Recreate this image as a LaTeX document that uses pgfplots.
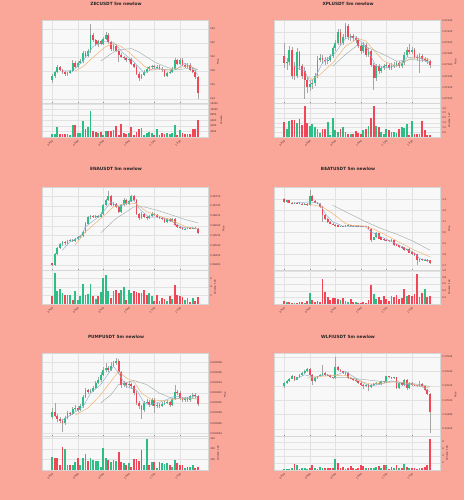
\documentclass[border=0pt]{standalone}
\usepackage{fontspec}
\setmainfont{DejaVu Sans}
\usepackage{pgfplots}
\usepackage{pgfplotstable}
\pgfplotsset{compat=1.18}

\definecolor{pagebg}{RGB}{250,166,152}
\definecolor{panelbg}{RGB}{248,248,248}
\definecolor{gridc}{RGB}{226,226,226}
\definecolor{framec}{RGB}{215,215,215}
\definecolor{upc}{RGB}{46,189,133}
\definecolor{downc}{RGB}{240,70,85}
\definecolor{wickc}{RGB}{165,165,165}
\definecolor{maA}{RGB}{135,175,215}
\definecolor{maB}{RGB}{240,175,105}
\definecolor{maC}{RGB}{160,175,172}
\definecolor{labc}{RGB}{60,40,50}

\newcommand{\tickfont}{\fontsize{2.4}{2.8}\selectfont}
\newcommand{\titlefont}{\fontsize{4.3}{5}\selectfont\bfseries}

\pgfplotsset{
  base/.style={scale only axis, width=166pt, xmin=-4, xmax=61,
    axis background/.style={fill=panelbg},
    axis line style={draw=framec, line width=0.3pt},
    xmajorgrids, ymajorgrids, grid style={draw=gridc, line width=0.3pt},
    xtick={0,10,20,30,40,50},
    ytick pos=right, yticklabel pos=right,
    tick align=outside, major tick length=1.2pt,
    tick style={draw=black!45, line width=0.3pt},
    ticklabel style={font=\tickfont, text=labc, inner sep=1pt},
    ylabel style={font=\tickfont, text=labc, inner sep=1pt},
    scaled y ticks=false, scaled x ticks=false},
  price/.style={base, height=83pt, xticklabels={}, xtick style={draw=none}, ylabel={Price}},
  vol/.style={base, height=34pt, ymin=0,
    xticklabels={08:10,09:00,09:50,10:40,11:30,12:20},
    xticklabel style={rotate=45, anchor=north east}},
}

\newcommand{\candleplots}[1]{%
 \addplot[draw=none, mark=none, forget plot, error bars/.cd, y dir=minus, y explicit, error mark=none,
   error bar style={line width=0.35pt, draw=wickc}]
   table[x=i, y=h, y error expr=\thisrow{h}-\thisrow{l}] {#1};
 \addplot[draw=none, mark=none, forget plot, y filter/.expression={\thisrow{c}>=\thisrow{o} ? y : nan},
   error bars/.cd, y dir=minus, y explicit, error mark=none,
   error bar style={line width=1.8pt, draw=upc}]
   table[x=i, y=c, y error expr=\thisrow{c}-\thisrow{o}] {#1};
 \addplot[draw=none, mark=none, forget plot, y filter/.expression={\thisrow{c}<\thisrow{o} ? y : nan},
   error bars/.cd, y dir=minus, y explicit, error mark=none,
   error bar style={line width=1.8pt, draw=downc}]
   table[x=i, y=o, y error expr=\thisrow{o}-\thisrow{c}] {#1};
}
\newcommand{\volplots}[1]{%
 \addplot[ycomb, mark=none, line width=1.8pt, draw=upc,
   y filter/.expression={\thisrow{c}>=\thisrow{o} ? y : nan}] table[x=i, y=v] {#1};
 \addplot[ycomb, mark=none, line width=1.8pt, draw=downc,
   y filter/.expression={\thisrow{c}<\thisrow{o} ? y : nan}] table[x=i, y=v] {#1};
}

\pgfplotstableread{
i o h l c v
0 516.75 517.6 516.3 517.30 1000
1 517.30 518.0 517.0 517.90 1000
2 517.90 518.8 517.7 518.50 3500
3 518.50 518.7 518.0 518.10 1200
4 518.10 518.3 517.6 517.80 1200
5 517.80 518.0 517.3 517.50 1000
6 517.50 517.9 517.3 517.70 1000
7 517.70 518.2 517.5 518.00 800
8 518.00 519.5 517.8 519.20 4300
9 519.20 519.4 518.4 518.60 4300
10 518.60 519.4 518.4 519.20 1300
11 519.20 519.7 519.0 519.40 1300
12 519.40 520.8 519.2 520.60 5800
13 520.60 520.9 519.9 520.20 2800
14 520.20 521.1 520.0 520.90 3500
15 520.90 524.7 520.6 523.20 9500
16 523.20 523.4 522.2 522.40 2300
17 522.40 522.6 521.6 521.80 1800
18 521.80 522.5 521.5 522.30 1300
19 522.30 522.5 521.7 521.90 1800
20 521.90 522.8 521.7 522.60 800
21 522.60 523.6 522.4 523.20 2300
22 523.20 523.4 521.9 522.10 2100
23 522.10 522.3 520.9 521.10 2300
24 521.10 521.8 520.8 521.60 2500
25 521.60 521.8 520.7 520.90 3800
26 520.90 521.1 519.3 520.30 800
27 520.30 520.5 519.8 520.00 4700
28 520.00 520.2 519.6 519.80 1300
29 519.80 520.0 519.3 519.50 1100
30 519.50 519.9 519.3 519.70 1300
31 519.70 519.9 518.8 519.00 3600
32 519.00 519.2 518.4 518.60 800
33 518.60 518.8 517.4 517.60 1800
34 517.60 517.8 516.5 517.00 2800
35 517.00 517.6 516.8 517.40 3300
36 517.40 518.1 517.2 517.90 800
37 517.90 518.5 517.7 518.30 1600
38 518.30 518.7 518.1 518.50 1800
39 518.50 518.9 518.3 518.70 1500
40 518.70 518.9 518.3 518.50 800
41 518.50 518.8 518.3 518.60 2800
42 518.60 518.8 518.1 518.30 800
43 518.30 518.5 517.9 518.10 1500
44 518.10 518.3 517.1 517.30 1100
45 517.30 517.9 517.1 517.70 1300
46 517.70 518.1 517.5 517.90 1000
47 517.90 518.5 517.7 518.30 1300
48 518.30 519.9 518.1 519.50 4300
49 519.50 519.7 518.8 519.00 800
50 519.00 519.9 518.8 519.60 2500
51 519.60 519.8 518.7 518.90 1500
52 518.90 519.1 518.4 518.60 1100
53 518.60 519.1 518.4 518.90 1100
54 518.90 519.1 518.0 518.20 1100
55 518.20 518.4 517.7 517.90 2800
56 517.90 518.1 516.9 517.10 3000
57 517.10 517.3 514.0 514.80 6300
}\zec

\pgfplotstableread{
i o h l c v
0 0.27376 0.27400 0.27355 0.27363 1.58
1 0.27363 0.27372 0.27352 0.27366 0.88
2 0.27366 0.27395 0.27360 0.27388 1.65
3 0.27388 0.27392 0.27335 0.27340 1.76
4 0.27358 0.27365 0.27334 0.27340 1.76
5 0.27340 0.27390 0.27336 0.27383 1.48
6 0.27383 0.27386 0.27352 0.27358 1.87
7 0.27358 0.27362 0.27335 0.27340 1.23
8 0.27350 0.27356 0.27300 0.27334 3.24
9 0.27334 0.27340 0.27310 0.27320 1.51
10 0.27320 0.27332 0.27314 0.27326 1.13
11 0.27326 0.27334 0.27318 0.27328 1.34
12 0.27328 0.27345 0.27322 0.27340 1.06
13 0.27340 0.27376 0.27336 0.27370 0.88
14 0.27370 0.27380 0.27365 0.27373 0.42
15 0.27373 0.27378 0.27362 0.27369 0.88
16 0.27369 0.27374 0.27360 0.27367 0.81
17 0.27367 0.27375 0.27362 0.27369 1.58
18 0.27369 0.27380 0.27366 0.27376 0.25
19 0.27376 0.27395 0.27372 0.27391 1.94
20 0.27391 0.27405 0.27386 0.27400 0.70
21 0.27400 0.27425 0.27396 0.27420 0.53
22 0.27420 0.27424 0.27395 0.27400 0.88
23 0.27400 0.27415 0.27396 0.27411 1.06
24 0.27411 0.27436 0.27406 0.27430 0.53
25 0.27430 0.27433 0.27405 0.27410 0.35
26 0.27410 0.27416 0.27404 0.27412 0.35
27 0.27412 0.27415 0.27404 0.27409 0.35
28 0.27409 0.27412 0.27400 0.27405 0.63
29 0.27405 0.27409 0.27390 0.27395 0.46
30 0.27395 0.27399 0.27380 0.27385 0.35
31 0.27385 0.27401 0.27381 0.27397 0.70
32 0.27397 0.27400 0.27374 0.27379 0.88
33 0.27379 0.27390 0.27375 0.27385 1.13
34 0.27385 0.27388 0.27356 0.27361 1.94
35 0.27361 0.27364 0.27316 0.27337 3.24
36 0.27337 0.27362 0.27332 0.27358 1.13
37 0.27358 0.27362 0.27344 0.27349 1.06
38 0.27349 0.27359 0.27345 0.27355 0.53
39 0.27355 0.27362 0.27351 0.27358 0.35
40 0.27358 0.27365 0.27354 0.27361 0.88
41 0.27361 0.27364 0.27351 0.27355 0.77
42 0.27355 0.27363 0.27351 0.27359 0.53
43 0.27359 0.27365 0.27355 0.27361 0.53
44 0.27361 0.27368 0.27357 0.27364 0.42
45 0.27364 0.27367 0.27354 0.27358 0.88
46 0.27358 0.27368 0.27354 0.27364 1.06
47 0.27364 0.27383 0.27360 0.27379 0.99
48 0.27379 0.27392 0.27375 0.27388 1.41
49 0.27388 0.27398 0.27380 0.27384 0.18
50 0.27384 0.27392 0.27380 0.27388 1.69
51 0.27388 0.27391 0.27371 0.27375 0.35
52 0.27375 0.27379 0.27368 0.27373 0.35
53 0.27373 0.27381 0.27345 0.27377 0.35
54 0.27377 0.27380 0.27366 0.27371 1.69
55 0.27371 0.27375 0.27365 0.27370 0.70
56 0.27370 0.27373 0.27362 0.27367 0.25
57 0.27367 0.27370 0.27355 0.27361 0.18
}\xpl

\pgfplotstableread{
i o h l c v
0 0.38409 0.38412 0.38396 0.38400 1.76
1 0.38400 0.38462 0.38395 0.38456 7.20
2 0.38456 0.38492 0.38450 0.38485 2.96
3 0.38485 0.38512 0.38480 0.38505 3.60
4 0.38505 0.38522 0.38498 0.38515 2.64
5 0.38515 0.38520 0.38503 0.38510 2.00
6 0.38510 0.38528 0.38505 0.38522 2.00
7 0.38522 0.38533 0.38517 0.38527 2.16
8 0.38527 0.38532 0.38519 0.38524 0.96
9 0.38524 0.38540 0.38519 0.38535 3.04
10 0.38535 0.38547 0.38530 0.38541 0.96
11 0.38541 0.38553 0.38536 0.38547 1.76
12 0.38547 0.38575 0.38542 0.38569 4.56
13 0.38569 0.38617 0.38564 0.38611 2.16
14 0.38611 0.38648 0.38605 0.38642 2.40
15 0.38642 0.38655 0.38636 0.38649 4.56
16 0.38649 0.38654 0.38640 0.38645 1.76
17 0.38645 0.38656 0.38640 0.38650 1.20
18 0.38650 0.38655 0.38641 0.38646 1.76
19 0.38646 0.38668 0.38641 0.38662 2.80
20 0.38662 0.38710 0.38657 0.38704 6.00
21 0.38704 0.38736 0.38699 0.38730 6.80
22 0.38730 0.38777 0.38725 0.38750 2.96
23 0.38750 0.38755 0.38698 0.38704 1.36
24 0.38704 0.38719 0.38699 0.38713 2.96
25 0.38713 0.38718 0.38690 0.38696 3.20
26 0.38696 0.38701 0.38665 0.38671 2.56
27 0.38671 0.38710 0.38666 0.38704 3.36
28 0.38704 0.38739 0.38699 0.38733 4.00
29 0.38733 0.38738 0.38707 0.38713 0.96
30 0.38713 0.38731 0.38708 0.38725 3.20
31 0.38725 0.38758 0.38720 0.38752 2.64
32 0.38752 0.38757 0.38724 0.38730 3.04
33 0.38730 0.38735 0.38656 0.38662 2.72
34 0.38662 0.38667 0.38630 0.38637 2.56
35 0.38637 0.38668 0.38632 0.38662 2.64
36 0.38662 0.38667 0.38640 0.38645 3.20
37 0.38645 0.38650 0.38631 0.38637 2.00
38 0.38637 0.38655 0.38632 0.38649 2.64
39 0.38649 0.38668 0.38644 0.38662 1.76
40 0.38662 0.38667 0.38649 0.38654 0.80
41 0.38654 0.38659 0.38640 0.38645 2.00
42 0.38645 0.38650 0.38632 0.38637 0.80
43 0.38637 0.38642 0.38627 0.38632 1.36
44 0.38632 0.38637 0.38615 0.38620 1.20
45 0.38620 0.38638 0.38615 0.38632 0.80
46 0.38632 0.38637 0.38620 0.38625 1.76
47 0.38625 0.38638 0.38620 0.38632 1.20
48 0.38632 0.38637 0.38597 0.38603 4.40
49 0.38603 0.38608 0.38589 0.38595 2.16
50 0.38595 0.38600 0.38585 0.38590 1.76
51 0.38590 0.38595 0.38576 0.38581 1.60
52 0.38581 0.38591 0.38576 0.38586 0.96
53 0.38586 0.38595 0.38581 0.38590 1.36
54 0.38590 0.38594 0.38581 0.38586 0.40
55 0.38586 0.38593 0.38581 0.38588 1.44
56 0.38588 0.38592 0.38581 0.38586 0.80
57 0.38586 0.38590 0.38558 0.38564 1.60
}\ena

\pgfplotstableread{
i o h l c v
0 3.309 3.315 3.270 3.279 0.10
1 3.279 3.300 3.272 3.294 0.07
2 3.294 3.298 3.266 3.272 0.05
3 3.272 3.276 3.265 3.270 0.03
4 3.270 3.278 3.266 3.273 0.03
5 3.273 3.276 3.266 3.270 0.02
6 3.270 3.274 3.260 3.264 0.05
7 3.264 3.268 3.254 3.258 0.07
8 3.258 3.265 3.254 3.260 0.02
9 3.262 3.266 3.245 3.250 0.10
10 3.250 3.385 3.245 3.330 0.34
11 3.330 3.345 3.285 3.290 0.12
12 3.290 3.296 3.266 3.272 0.05
13 3.272 3.278 3.256 3.262 0.10
14 3.262 3.268 3.228 3.233 0.05
15 3.233 3.240 3.097 3.158 0.75
16 3.158 3.165 3.110 3.127 0.35
17 3.127 3.135 3.090 3.097 0.22
18 3.097 3.104 3.076 3.082 0.12
19 3.082 3.088 3.067 3.073 0.17
20 3.073 3.079 3.052 3.058 0.17
21 3.064 3.070 3.046 3.052 0.15
22 3.052 3.063 3.047 3.058 0.12
23 3.058 3.063 3.047 3.052 0.17
24 3.052 3.070 3.047 3.064 0.10
25 3.064 3.076 3.059 3.070 0.07
26 3.067 3.072 3.053 3.058 0.15
27 3.060 3.065 3.053 3.058 0.05
28 3.058 3.066 3.053 3.060 0.05
29 3.060 3.065 3.053 3.058 0.03
30 3.058 3.063 3.052 3.057 0.02
31 3.057 3.062 3.047 3.052 0.05
32 3.058 3.063 3.047 3.052 0.03
33 3.052 3.058 3.030 3.036 0.12
34 3.036 3.042 2.915 2.930 0.58
35 2.935 2.962 2.928 2.955 0.30
36 2.955 3.003 2.950 2.997 0.15
37 2.991 2.997 2.940 2.945 0.20
38 2.955 2.960 2.930 2.936 0.12
39 2.945 2.950 2.925 2.930 0.25
40 2.936 2.942 2.918 2.924 0.15
41 2.930 2.936 2.915 2.921 0.10
42 2.921 2.942 2.916 2.936 0.25
43 2.930 2.936 2.879 2.885 0.20
44 2.891 2.897 2.873 2.879 0.28
45 2.882 2.888 2.858 2.864 0.15
46 2.870 2.876 2.849 2.855 0.17
47 2.864 2.870 2.833 2.839 0.45
48 2.839 2.854 2.834 2.848 0.25
49 2.850 2.856 2.809 2.815 0.28
50 2.824 2.830 2.797 2.803 0.25
51 2.809 2.815 2.788 2.794 0.30
52 2.800 2.806 2.703 2.748 0.90
53 2.748 2.762 2.735 2.755 0.20
54 2.755 2.760 2.741 2.748 0.32
55 2.748 2.758 2.742 2.752 0.45
56 2.752 2.757 2.733 2.739 0.22
57 2.745 2.751 2.712 2.718 0.25
}\beat

\pgfplotstableread{
i o h l c v
0 0.0028272 0.0028290 0.0028268 0.0028282 127
1 0.0028282 0.0028300 0.0028272 0.0028275 117
2 0.0028275 0.0028278 0.0028263 0.0028268 117
3 0.0028268 0.0028272 0.0028260 0.0028265 48
4 0.0028265 0.0028268 0.0028243 0.0028260 222
5 0.0028260 0.0028274 0.0028257 0.0028270 197
6 0.0028270 0.0028285 0.0028268 0.0028280 48
7 0.0028280 0.0028283 0.0028274 0.0028278 48
8 0.0028278 0.0028292 0.0028276 0.0028289 48
9 0.0028289 0.0028295 0.0028285 0.0028290 73
10 0.0028290 0.0028293 0.0028282 0.0028287 111
11 0.0028287 0.0028297 0.0028285 0.0028293 48
12 0.0028293 0.0028315 0.0028290 0.0028312 117
13 0.0028312 0.0028330 0.0028310 0.0028325 149
14 0.0028325 0.0028328 0.0028318 0.0028322 86
15 0.0028322 0.0028328 0.0028319 0.0028324 117
16 0.0028324 0.0028333 0.0028321 0.0028330 95
17 0.0028330 0.0028344 0.0028328 0.0028340 86
18 0.0028340 0.0028350 0.0028337 0.0028345 86
19 0.0028345 0.0028360 0.0028342 0.0028355 32
20 0.0028355 0.0028370 0.0028352 0.0028365 213
21 0.0028365 0.0028378 0.0028360 0.0028368 117
22 0.0028368 0.0028372 0.0028360 0.0028364 95
23 0.0028364 0.0028380 0.0028362 0.0028372 79
24 0.0028372 0.0028383 0.0028370 0.0028378 95
25 0.0028378 0.0028388 0.0028375 0.0028383 86
26 0.0028383 0.0028386 0.0028356 0.0028360 168
27 0.0028360 0.0028363 0.0028330 0.0028335 79
28 0.0028335 0.0028344 0.0028332 0.0028339 70
29 0.0028339 0.0028342 0.0028330 0.0028335 48
30 0.0028335 0.0028343 0.0028332 0.0028337 63
31 0.0028337 0.0028340 0.0028328 0.0028333 32
32 0.0028333 0.0028336 0.0028316 0.0028320 102
33 0.0028320 0.0028323 0.0028296 0.0028300 102
34 0.0028300 0.0028304 0.0028289 0.0028293 86
35 0.0028293 0.0028296 0.0028269 0.0028286 190
36 0.0028286 0.0028304 0.0028283 0.0028300 48
37 0.0028300 0.0028308 0.0028297 0.0028302 292
38 0.0028302 0.0028305 0.0028292 0.0028296 48
39 0.0028296 0.0028310 0.0028293 0.0028306 73
40 0.0028306 0.0028309 0.0028280 0.0028293 79
41 0.0028293 0.0028300 0.0028290 0.0028296 22
42 0.0028296 0.0028299 0.0028290 0.0028294 79
43 0.0028294 0.0028302 0.0028291 0.0028298 70
44 0.0028298 0.0028304 0.0028295 0.0028300 54
45 0.0028300 0.0028305 0.0028297 0.0028301 63
46 0.0028301 0.0028304 0.0028292 0.0028296 48
47 0.0028296 0.0028310 0.0028293 0.0028307 32
48 0.0028307 0.0028336 0.0028305 0.0028322 95
49 0.0028322 0.0028326 0.0028315 0.0028319 70
50 0.0028319 0.0028323 0.0028305 0.0028309 48
51 0.0028309 0.0028312 0.0028301 0.0028305 48
52 0.0028305 0.0028312 0.0028302 0.0028309 22
53 0.0028309 0.0028312 0.0028302 0.0028305 32
54 0.0028305 0.0028316 0.0028302 0.0028313 32
55 0.0028313 0.0028320 0.0028310 0.0028316 48
56 0.0028316 0.0028319 0.0028310 0.0028313 16
57 0.0028313 0.0028316 0.0028294 0.0028297 32
}\pump

\pgfplotstableread{
i o h l c v
0 0.135200 0.135250 0.135167 0.135237 0.19
1 0.135237 0.135285 0.135225 0.135270 0.29
2 0.135270 0.135312 0.135258 0.135300 0.29
3 0.135300 0.135345 0.135290 0.135330 0.48
4 0.135330 0.135340 0.135272 0.135284 1.62
5 0.135284 0.135328 0.135275 0.135316 1.43
6 0.135316 0.135365 0.135305 0.135353 0.29
7 0.135353 0.135390 0.135342 0.135377 0.48
8 0.135377 0.135420 0.135365 0.135409 0.67
9 0.135409 0.135450 0.135398 0.135437 0.29
10 0.135437 0.135448 0.135340 0.135353 0.67
11 0.135353 0.135364 0.135214 0.135260 1.43
12 0.135260 0.135318 0.135248 0.135307 0.67
13 0.135307 0.135342 0.135296 0.135330 0.19
14 0.135330 0.135365 0.135318 0.135353 0.95
15 0.135353 0.135493 0.135342 0.135377 0.67
16 0.135377 0.135388 0.135342 0.135353 0.67
17 0.135353 0.135362 0.135334 0.135344 0.48
18 0.135344 0.135354 0.135305 0.135316 0.48
19 0.135316 0.135326 0.135296 0.135307 0.48
20 0.135307 0.135600 0.135296 0.135456 3.14
21 0.135456 0.135470 0.135412 0.135423 1.90
22 0.135423 0.135434 0.135390 0.135400 0.67
23 0.135400 0.135411 0.135366 0.135377 0.95
24 0.135360 0.135389 0.135350 0.135377 0.29
25 0.135377 0.135388 0.135296 0.135307 0.48
26 0.135307 0.135318 0.135288 0.135298 1.24
27 0.135298 0.135309 0.135273 0.135284 0.67
28 0.135284 0.135295 0.135249 0.135260 0.29
29 0.135260 0.135271 0.135226 0.135237 0.48
30 0.135237 0.135248 0.135203 0.135214 1.43
31 0.135214 0.135225 0.135150 0.135200 1.24
32 0.135200 0.135226 0.135190 0.135214 0.48
33 0.135214 0.135225 0.135121 0.135177 0.67
34 0.135177 0.135226 0.135166 0.135214 0.48
35 0.135214 0.135235 0.135203 0.135223 0.48
36 0.135223 0.135249 0.135212 0.135237 0.95
37 0.135237 0.135248 0.135212 0.135223 1.24
38 0.135223 0.135272 0.135212 0.135260 0.67
39 0.135260 0.135271 0.135240 0.135251 1.43
40 0.135251 0.135342 0.135240 0.135330 1.43
41 0.135330 0.135341 0.135305 0.135316 0.29
42 0.135316 0.135327 0.135291 0.135302 0.95
43 0.135302 0.135328 0.135291 0.135316 0.67
44 0.135316 0.135327 0.135150 0.135167 1.43
45 0.135167 0.135249 0.135156 0.135237 0.67
46 0.135237 0.135248 0.135203 0.135214 0.48
47 0.135214 0.135296 0.135203 0.135284 1.62
48 0.135284 0.135295 0.135140 0.135167 0.95
49 0.135167 0.135249 0.135156 0.135237 0.48
50 0.135237 0.135248 0.135203 0.135214 0.48
51 0.135214 0.135225 0.135194 0.135205 0.48
52 0.135205 0.135216 0.135184 0.135195 0.29
53 0.135195 0.135270 0.135184 0.135223 0.48
54 0.135223 0.135234 0.135180 0.135191 0.67
55 0.135191 0.135202 0.135133 0.135144 0.95
56 0.135144 0.135155 0.135073 0.135084 1.43
57 0.135084 0.135095 0.134540 0.134833 8.86
}\wlfi

\begin{document}
\begin{tikzpicture}
\fill[pagebg] (0,0) rectangle (464pt,-500pt);
\useasboundingbox (0,0) rectangle (464pt,-500pt);

% titles
\node[font=\titlefont, text=black!85] at (116pt,-3.5pt) {ZECUSDT 5m newlow};
\node[font=\titlefont, text=black!85] at (348pt,-3.5pt) {XPLUSDT 5m newlow};
\node[font=\titlefont, text=black!85] at (116pt,-169pt) {ENAUSDT 5m newlow};
\node[font=\titlefont, text=black!85] at (348pt,-169pt) {BEATUSDT 5m newlow};
\node[font=\titlefont, text=black!85] at (116pt,-337pt) {PUMPUSDT 5m newlow};
\node[font=\titlefont, text=black!85] at (348pt,-337pt) {WLFIUSDT 5m newlow};

% ---------- ZEC ----------
\begin{axis}[price, at={(42pt,-20pt)}, anchor=north west, ymin=513.4, ymax=525.3,
  ytick={514,516,518,520,522,524}, yticklabels={514,516,518,520,522,524}]
 \candleplots{\zec}
 \addplot[draw=maA, line width=0.45pt, mark=none] coordinates {(4,518.0)(8,518.0)(12,519.4)(16,521.5)(20,522.2)(24,522.1)(28,520.5)(32,519.3)(36,517.7)(40,518.4)(44,518.2)(48,518.1)(52,519.1)(55,518.5)(57,517.4)};
 \addplot[draw=maB, line width=0.45pt, mark=none] coordinates {(9,518.0)(12,518.6)(15,519.6)(18,520.6)(21,521.5)(24,521.9)(27,521.5)(30,520.7)(33,519.7)(36,518.7)(39,518.1)(42,518.3)(45,518.1)(48,518.3)(51,518.6)(54,518.7)(57,518.2)};
 \addplot[draw=maC, line width=0.45pt, mark=none] coordinates {(19,519.4)(22,520.2)(25,520.9)(28,521.1)(31,521.2)(34,520.7)(37,520.0)(40,519.3)(43,518.8)(46,518.4)(49,518.2)(52,518.3)(55,518.4)(57,518.1)};
\end{axis}
\begin{axis}[vol, at={(42pt,-103pt)}, anchor=north west, ymax=12300,
  ytick={2000,4000,6000,8000,10000,12000}, yticklabels={2000,4000,6000,8000,10000,12000}, ylabel={Volume}]
 \volplots{\zec}
\end{axis}

% ---------- XPL ----------
\begin{axis}[price, at={(274pt,-20pt)}, anchor=north west, ymin=0.27292, ymax=0.27441,
  ytick={0.2730,0.2732,0.2734,0.2736,0.2738,0.2740,0.2742,0.2744},
  yticklabels={0.27300,0.27320,0.27340,0.27360,0.27380,0.27400,0.27420,0.27440}]
 \candleplots{\xpl}
 \addplot[draw=maA, line width=0.45pt, mark=none] coordinates {(4,0.27358)(8,0.27349)(10,0.27331)(12,0.27337)(15,0.27364)(20,0.27382)(24,0.27408)(28,0.27411)(32,0.27394)(36,0.27358)(40,0.27355)(44,0.27359)(48,0.27373)(52,0.27375)(57,0.27364)};
 \addplot[draw=maB, line width=0.45pt, mark=none] coordinates {(9,0.27340)(11,0.27334)(14,0.27343)(19,0.27364)(24,0.27394)(29,0.27408)(32,0.27403)(36,0.27382)(39,0.27367)(44,0.27358)(50,0.27373)(54,0.27373)(57,0.27370)};
 \addplot[draw=maC, line width=0.45pt, mark=none] coordinates {(19,0.27358)(24,0.27379)(29,0.27397)(33,0.27391)(39,0.27379)(44,0.27367)(50,0.27370)(57,0.27367)};
\end{axis}
\begin{axis}[vol, at={(274pt,-103pt)}, anchor=north west, ymax=3.56,
  ytick={0.5,1,1.5,2,2.5,3}, yticklabels={0.5,1.0,1.5,2.0,2.5,3.0}, ylabel={Volume\ \ 1e7}]
 \volplots{\xpl}
\end{axis}

% ---------- ENA ----------
\begin{axis}[price, at={(42pt,-187pt)}, anchor=north west, ymin=0.38375, ymax=0.38797,
  ytick={0.3840,0.3845,0.3850,0.3855,0.3860,0.3865,0.3870,0.3875},
  yticklabels={0.38400,0.38450,0.38500,0.38550,0.38600,0.38650,0.38700,0.38750}]
 \candleplots{\ena}
 \addplot[draw=maA, line width=0.45pt, mark=none] coordinates {(4,0.38476)(7,0.38519)(11,0.38541)(13,0.38595)(19,0.38654)(23,0.38721)(26,0.38696)(32,0.38730)(34,0.38688)(38,0.38642)(43,0.38642)(47,0.38620)(51,0.38591)(57,0.38586)};
 \addplot[draw=maB, line width=0.45pt, mark=none] coordinates {(9,0.38502)(13,0.38569)(19,0.38637)(24,0.38696)(29,0.38716)(33,0.38713)(37,0.38671)(42,0.38649)(47,0.38628)(52,0.38595)(57,0.38586)};
 \addplot[draw=maC, line width=0.45pt, mark=none] coordinates {(19,0.38564)(25,0.38637)(32,0.38696)(36,0.38696)(41,0.38679)(47,0.38654)(52,0.38632)(57,0.38615)};
\end{axis}
\begin{axis}[vol, at={(42pt,-270pt)}, anchor=north west, ymax=7.9,
  ytick={2,4,6}, yticklabels={2,4,6}, ylabel={Volume\ \ 1e6}]
 \volplots{\ena}
\end{axis}

% ---------- BEAT ----------
\begin{axis}[price, at={(274pt,-187pt)}, anchor=north west, ymin=2.658, ymax=3.415,
  ytick={2.7,2.8,2.9,3.0,3.1,3.2,3.3}, yticklabels={2.7,2.8,2.9,3.0,3.1,3.2,3.3}]
 \candleplots{\beat}
 \addplot[draw=maA, line width=0.45pt, mark=none] coordinates {(4,3.270)(10,3.279)(14,3.264)(16,3.173)(19,3.097)(23,3.058)(32,3.052)(34,3.006)(38,2.961)(45,2.885)(51,2.815)(53,2.764)(57,2.742)};
 \addplot[draw=maB, line width=0.45pt, mark=none] coordinates {(9,3.264)(15,3.233)(19,3.173)(24,3.082)(26,3.067)(32,3.058)(36,3.021)(41,2.961)(46,2.900)(51,2.839)(57,2.779)};
 \addplot[draw=maC, line width=0.45pt, mark=none] coordinates {(19,3.248)(32,3.097)(38,3.036)(45,2.976)(51,2.915)(57,2.839)};
\end{axis}
\begin{axis}[vol, at={(274pt,-270pt)}, anchor=north west, ymax=1.02,
  ytick={0.2,0.4,0.6,0.8,1.0}, yticklabels={0.2,0.4,0.6,0.8,1.0}, ylabel={Volume\ \ 1e6}]
 \volplots{\beat}
\end{axis}

% ---------- PUMP ----------
\begin{axis}[price, at={(42pt,-353pt)}, anchor=north west, ymin=0.0028235, ymax=0.0028398,
  ytick={0.002824,0.002826,0.002828,0.002830,0.002832,0.002834,0.002836,0.002838},
  yticklabels={0.002824,0.002826,0.002828,0.002830,0.002832,0.002834,0.002836,0.002838}]
 \candleplots{\pump}
 \addplot[draw=maA, line width=0.45pt, mark=none] coordinates {(4,0.0028266)(8,0.0028279)(12,0.0028292)(15,0.0028319)(19,0.0028336)(24,0.0028372)(26,0.0028359)(29,0.0028332)(33,0.0028326)(36,0.0028300)(38,0.0028296)(43,0.0028303)(48,0.0028313)(52,0.0028311)(57,0.0028313)};
 \addplot[draw=maB, line width=0.45pt, mark=none] coordinates {(9,0.0028276)(14,0.0028290)(19,0.0028316)(24,0.0028349)(26,0.0028362)(29,0.0028349)(32,0.0028342)(35,0.0028319)(39,0.0028306)(44,0.0028304)(50,0.0028309)(57,0.0028308)};
 \addplot[draw=maC, line width=0.45pt, mark=none] coordinates {(19,0.0028300)(23,0.0028316)(26,0.0028336)(32,0.0028344)(37,0.0028336)(42,0.0028319)(47,0.0028309)(57,0.0028308)};
\end{axis}
\begin{axis}[vol, at={(42pt,-436pt)}, anchor=north west, ymax=324,
  ytick={100,200,300}, yticklabels={100,200,300}, ylabel={Volume\ \ 1e6}]
 \volplots{\pump}
\end{axis}

% ---------- WLFI ----------
\begin{axis}[price, at={(274pt,-353pt)}, anchor=north west, ymin=0.134502, ymax=0.135656,
  ytick={0.1346,0.1348,0.1350,0.1352,0.1354,0.1356},
  yticklabels={0.13460,0.13480,0.13500,0.13520,0.13540,0.13560}]
 \candleplots{\wlfi}
 \addplot[draw=maA, line width=0.45pt, mark=none] coordinates {(4,0.135284)(8,0.135353)(12,0.135316)(16,0.135353)(20,0.135344)(24,0.135400)(28,0.135307)(32,0.135223)(34,0.135200)(38,0.135223)(42,0.135270)(46,0.135223)(50,0.135214)(53,0.135205)(57,0.135121)};
 \addplot[draw=maB, line width=0.45pt, mark=none] coordinates {(9,0.135307)(13,0.135330)(19,0.135340)(24,0.135344)(29,0.135270)(34,0.135223)(39,0.135237)(44,0.135260)(50,0.135223)(57,0.135167)};
 \addplot[draw=maC, line width=0.45pt, mark=none] coordinates {(19,0.135316)(24,0.135316)(32,0.135284)(38,0.135260)(45,0.135251)(52,0.135223)(57,0.135191)};
\end{axis}
\begin{axis}[vol, at={(274pt,-436pt)}, anchor=north west, ymax=9.7,
  ytick={2,4,6,8}, yticklabels={2,4,6,8}, ylabel={Volume\ \ 1e6}]
 \volplots{\wlfi}
\end{axis}
\end{tikzpicture}
\end{document}
